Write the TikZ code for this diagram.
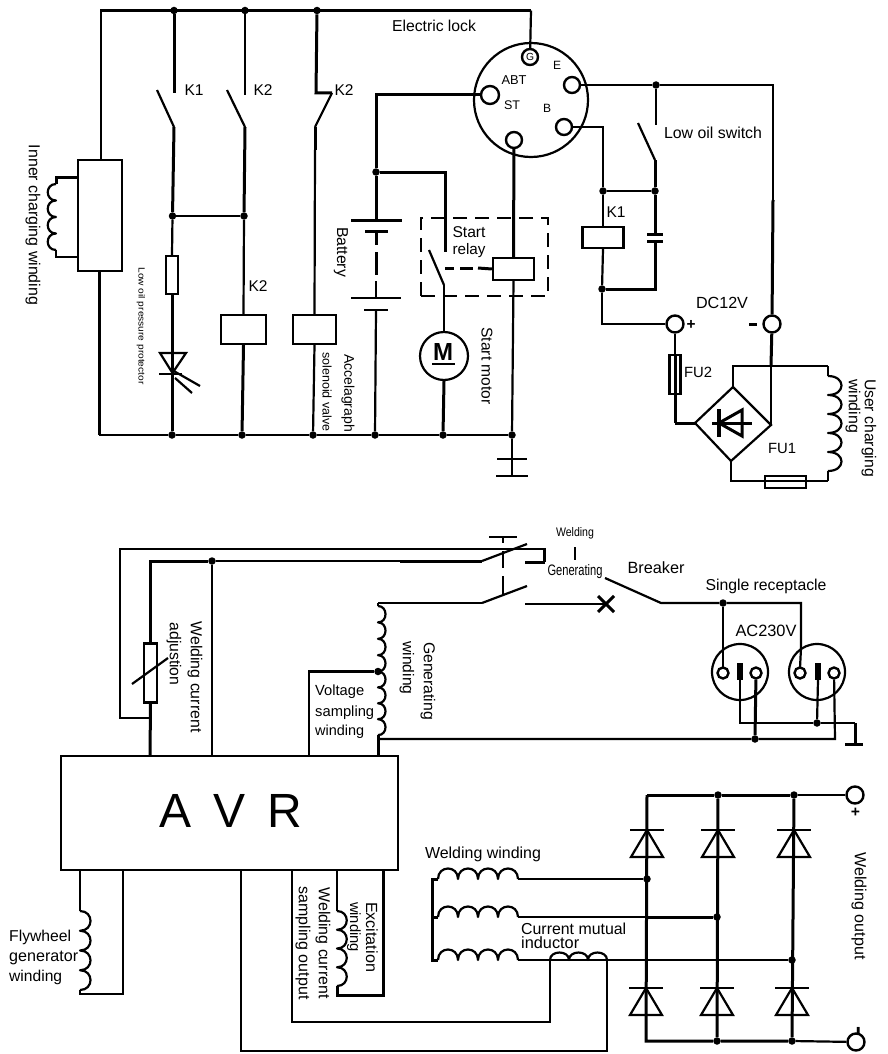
\documentclass[tikz,border=0pt]{standalone}
\usepackage{fontspec}
\usepackage{graphicx}
\setmainfont{Liberation Sans}
\newcommand\Tw[2]{\resizebox{#1pt}{!}{#2}}
\newcommand\Tb[3]{\resizebox{#1pt}{#2pt}{#3}}
\newcommand\diodeD[2]{%
  \draw[wire] (#1,#2) ++(-17,0) -- ++(34,0);
  \draw[wire] (#1,#2) -- ++(-16,27) -- ++(32,0) -- cycle;}
% start point, step x, step y, bulge x, bulge y, number of turns
\newcommand\coilP[6]{\draw[coilline] (#1) foreach \i in {1,...,#6} { .. controls +(#4,#5) and +(#4,#5) .. ++(#2,#3) };}
\tikzset{
  wire/.style={line width=2.2pt,line join=miter,draw=black},
  thin wire/.style={line width=1.7pt,draw=black},
  thick wire/.style={line width=3pt,draw=black},
  coilline/.style={line width=2.2pt,draw=black,line join=round},
  dot/.style={circle,fill=black,inner sep=0pt,minimum size=7.5pt},
  term/.style={circle,draw=black,line width=2.4pt,fill=white,inner sep=0pt,minimum size=#1},
  term/.default=16pt,
  box/.style={draw=black,line width=2.4pt,fill=white,inner sep=0pt},
  lab/.style={inner sep=0pt,text=black},
  rlab/.style={inner sep=0pt,text=black,rotate=-90},
}
\begin{document}
\begin{tikzpicture}[x=1pt,y=-1pt]
\useasboundingbox (0,0) rectangle (887,1054);
% ---- top rail and junctions
\coordinate (tl) at (101,10.5);
\coordinate (tr) at (531,10.5);
\node[dot] (t1) at (174,10.5) {};
\node[dot] (t2) at (245,10.5) {};
\node[dot] (t3) at (317,10.5) {};
\node[dot] (b1) at (172,435) {};
\node[dot] (b2) at (242,435) {};
\node[dot] (b3) at (313,435) {};
\node[dot] (b4) at (375,435) {};
\node[dot] (b5) at (443,435) {};
\node[dot] (b6) at (512,435) {};
\coordinate (bl) at (99,435);
% inner charging
\node[box,minimum width=44pt,minimum height=111pt] (chg) at (100,215.5) {};
\draw[wire] (chg.north -| tl) -- (tl) -- (tr);
\draw[thick wire] (bl) -- (chg.south -| bl);
\draw[wire] (bl) -- (b1) -- (b2) -- (b3) -- (b4) -- (b5) -- (b6);
\coordinate (ci1) at (56,177);
\coordinate (ci2) at (56,257);
\coordinate (ci3) at (56,250);
\draw[thick wire] (chg.west |- ci1) -- (ci1) -- (56,184);
\draw[wire] (chg.west |- ci2) -- (ci2) -- (56,250);
\coilP{ci3}{0}{-16.5}{-11}{0}{4}
\node[rlab] (lInner) at (33,225) {\Tw{160}{Inner charging winding}};
% K1 contact
\node[dot] (j1) at (172.5,216) {};
\node[dot] (j2) at (244,216) {};
\draw[thick wire] (t1) -- (174,93);
\draw[wire] (157,90) -- (174,127);
\draw[thick wire] (174,127) -- (j1);
\draw[wire] (j1) -- (j2);
\node[lab] (lK1a) at (194,90) {\Tw{19}{K1}};
% K2 contact
\draw[wire] (t2) -- (245,95);
\draw[wire] (227,90) -- (245,127);
\draw[thick wire] (245,127) -- (j2);
\node[lab] (lK2a) at (263,90) {\Tw{19}{K2}};
% K2 normally closed
\draw[thick wire] (t3) -- (316,93) -- (332,93);
\draw[wire] (332,93) -- (315,127);
\draw[thick wire] (315,127) -- (315,150);
\node[lab] (lK2b) at (344,90) {\Tw{19}{K2}};
% low oil pressure protector
\node[box,minimum width=12pt,minimum height=38pt] (fuseP) at (172,275) {};
\draw[wire] (j1) -- (fuseP.north);
\draw[thick wire] (fuseP.south) -- (b1);
\draw[wire] (160,353) -- (186,353) -- (172.5,373) -- cycle;
\draw[wire] (159,374) -- (182,374);
\draw[wire] (172,370) -- (200,386);
\draw[wire] (175,378) -- (192,393);
\node[rlab] (lLow) at (141,326) {\Tb{117}{6.5}{Low oil pressure protector}};
% K2 relay coils
\node[box,minimum width=45pt,minimum height=29pt] (coilK2) at (243.5,329.5) {};
\draw[wire] (j2) -- (coilK2.north);
\draw[thick wire] (coilK2.south) -- (b2);
\node[lab] (lK2c) at (258,286) {\Tw{19}{K2}};
\node[box,minimum width=43pt,minimum height=29pt] (coilAcc) at (314.5,329.5) {};
\draw[wire] (315,150) -- (coilAcc.north);
\draw[wire] (coilAcc.south) -- (b3);
\node[rlab] (lAcc1) at (348,393) {\Tw{78}{Accelagraph}};
\node[rlab] (lAcc2) at (327,392) {\Tw{79}{solenoid valve}};
% lock
\node[circle,draw=black,line width=2.2pt,inner sep=0pt,minimum size=114pt] (lock) at (531,100) {};
\node[term=16pt] (tG) at (530,57) {\Tw{8}{G}};
\node[term=16pt] (tE) at (572,85) {};
\node[term=18pt] (tA) at (490,95) {};
\node[term=16pt] (tB) at (564,127) {};
\node[term=16pt] (tS) at (514,140) {};
\draw[wire] (tr) -- (tG);
\node[lab] (lLock) at (434,26) {\Tw{84}{Electric lock}};
\node[lab] (lE) at (557,65) {\Tw{8}{E}};
\node[lab] (lABT) at (514,80) {\Tw{25}{ABT}};
\node[lab] (lST) at (512,105) {\Tw{16}{ST}};
\node[lab] (lB) at (547,108) {\Tw{8}{B}};
% battery
\node[dot] (jb) at (376,172) {};
\coordinate (bp1) at (376,220);
\draw[thick wire] (tA) -- (376,95) -- (jb);
\draw[thick wire] (jb) -- (bp1);
\draw[thick wire] (351,220) -- (402,220);
\draw[thick wire] (365,231) -- (388,231);
\draw[thick wire] (376,231) -- (376,245);
\draw[thick wire] (376,252) -- (376,275);
\draw[wire] (376,281) -- (376,298);
\draw[wire] (351,298) -- (401,298);
\draw[wire] (364,310) -- (388,310);
\draw[wire] (376,310) -- (b4);
\node[rlab] (lBat) at (341,252) {\Tw{50}{Battery}};
% start relay
\node[draw=black,line width=2.8pt,dash pattern=on 14pt off 8pt,inner sep=0pt,minimum width=127pt,minimum height=78pt] (rbox) at (484.5,257) {};
\node[box,minimum width=41pt,minimum height=22pt] (coilS) at (513.5,269) {};
\draw[thick wire] (jb) -- (445,172) -- (445,252);
\draw[wire] (429,250) -- (444,285);
\draw[thick wire] (445,268) -- (454,268);
\draw[thick wire] (460,268) -- (473,268);
\draw[thick wire] (478,268) -- (coilS.west);
\node[lab] (lSt1) at (469,232) {\Tw{33}{Start}};
\node[lab] (lSt2) at (469,251) {\Tw{33}{relay}};
\draw[thick wire] (tS) -- (coilS.north);
\draw[wire] (coilS.south) -- (b6);
% motor
\node[circle,draw=black,line width=2.2pt,inner sep=0pt,minimum size=48pt] (motor) at (444,356) {};
\node[lab] (lM) at (443,352) {\Tb{20}{17}{\bfseries M}};
\draw[thin wire] (432,364) -- (455,364);
\draw[wire] (444,285) -- (motor.north);
\draw[thick wire] (motor.south) -- (b5);
\node[rlab] (lSm) at (487,366) {\Tw{77}{Start motor}};
% ground
\coordinate (g1) at (512,476);
\draw[wire] (b6) -- (g1);
\draw[thin wire] (497,459) -- (527,459);
\draw[thin wire] (496,476) -- (528,476);
% E wire
\node[dot] (jE) at (656,85) {};
\node[term=17pt] (tM) at (772,324) {};
\draw[wire] (tE) -- (jE) -- (773,85) -- (773,200);
\draw[thick wire] (773,200) -- (tM);
\node[lab] (lOil) at (713,133) {\Tw{98}{Low oil switch}};
\draw[wire] (jE) -- (656,125);
\draw[wire] (638,123) -- (655,160);
\node[dot] (j3) at (655,191) {};
\node[dot] (j4) at (603,191) {};
\node[dot] (j5) at (602,289) {};
\draw[thick wire] (655,160) -- (j3);
\draw[wire] (j3) -- (j4);
\draw[wire] (tB) -- (603,127) -- (j4);
\node[box,minimum width=41pt,minimum height=21pt] (coilK1) at (603,237.5) {};
\draw[wire] (j4) -- (coilK1.north);
\draw[wire] (coilK1.south) -- (j5);
\node[lab] (lK1b) at (616,212) {\Tw{19}{K1}};
\coordinate (cap1) at (655,234);
\coordinate (cap2) at (655,241);
\draw[thick wire] (j3) -- (cap1);
\draw[thick wire] (647,234) -- (663,234);
\draw[thick wire] (647,241) -- (663,241);
\draw[thick wire] (cap2) -- (655,289) -- (j5);
% DC12V
\node[term=17pt] (tP) at (675,324) {};
\draw[wire] (j5) -- (602,324) -- (tP);
\node[lab] (lDC) at (722,303) {\Tw{52}{DC12V}};
\node[lab] (lPlus) at (691,325) {\Tw{9}{\bfseries +}};
\draw[thick wire] (749,324) -- (757,324);
% FU2
\node[box,minimum width=11pt,minimum height=39pt] (fu2) at (675,374.5) {};
\draw[wire] (tP) -- (675,355);
\draw[thick wire] (675,355) -- (675,423);
\node[lab] (lFU2) at (698,372) {\Tw{28}{FU2}};
% bridge
\coordinate (dT) at (733,387);
\coordinate (dR) at (771,425);
\coordinate (dB) at (731,461);
\coordinate (dL) at (695,423);
\draw[wire] (dT) -- (dR) -- (dB) -- (dL) -- cycle;
\draw[thick wire] (675,423) -- (dL);
\draw[thick wire] (tM) -- (771,366);
\draw[wire] (771,366) -- (dR);
\draw[wire] (dT) -- (733,366) -- (828,366);
\draw[thick wire] (712,423) -- (752,423);
\draw[line width=3.4pt,draw=black] (719,409) -- (719,437);
\draw[line width=3pt,draw=black] (719,423) -- (742,410) -- (742,436) -- cycle;
\draw[wire] (dB) -- (731,481) -- (828,481);
\node[box,minimum width=41pt,minimum height=12pt,fill=none] (fu1) at (785.5,482) {};
\node[lab] (lFU1) at (782,448) {\Tw{28}{FU1}};
\coordinate (cu1) at (828,376);
\draw[wire] (828,366) -- (cu1);
\coilP{cu1}{0}{19}{18}{0}{5}
\draw[wire] (828,471) -- (828,481);
\node[rlab] (lU1) at (869,428) {\Tw{98}{User charging}};
\node[rlab] (lU2) at (853,406) {\Tw{54}{winding}};
% ---- lower part: switches
\node[box,minimum width=13pt,minimum height=59pt] (pot) at (150.5,673) {};
\node[dot] (j6) at (212,561) {};
\draw[wire] (544.5,562) -- (544.5,549) -- (120,549) -- (120,718) -- (150,718);
\draw[thick wire] (544.5,562) -- (525,562);
\draw[thick wire] (150,643.5) -- (150,561) -- (j6);
\draw[wire] (j6) -- (400,561);
\draw[thick wire] (400,561) -- (482,561);
\draw[wire] (482,561) -- (527,544);
\node[box,minimum width=337pt,minimum height=114pt,line width=2.8pt,fill=none] (avr) at (229.5,813) {};
\node[lab] (lAVR) at (231,811) {\fontsize{48}{48}\selectfont A\hspace{22pt}V\hspace{22pt}R};
\draw[thick wire] (pot.south) -- (150,756);
\draw[wire] (j6) -- (212,756);
\draw[wire] (132,684) -- (168,658);
\node[rlab] (lWc) at (195,677) {\Tw{111}{Welding current}};
\node[rlab] (lAd) at (174,654) {\Tw{63}{adjustion}};
% gang
\draw[wire] (489,537) -- (517,537);
\draw[wire] (503,537) -- (503,543);
\draw[wire] (503,551) -- (503,568);
\draw[wire] (503,576) -- (503,594);
% generating
\coordinate (gt) at (378,603);
\coordinate (gs) at (378,606);
\node[dot] (gm) at (378,671.5) {};
\draw[wire] (gt) -- (482,603);
\draw[wire] (482,603) -- (527,586);
\draw[wire] (gt) -- (gs);
\coilP{gs}{0}{16.4}{10}{0}{4}
\coilP{gm.center}{0}{15.9}{10}{0}{4}
\draw[thick wire] (378,735) -- (378,756);
\draw[wire] (gm) -- (309,671.5) -- (309,756);
\node[rlab] (lGe1) at (428,681) {\Tw{78}{Generating}};
\node[rlab] (lGe2) at (407,668) {\Tw{53}{winding}};
\node[lab,anchor=west] (lV1) at (315,692) {\Tw{49}{Voltage}};
\node[lab,anchor=west] (lV2) at (315,713) {\Tw{59}{sampling}};
\node[lab,anchor=west] (lV3) at (315,732) {\Tw{49}{winding}};
% breaker
\draw[wire] (525,604) -- (606,604);
\draw[thick wire] (598,596) -- (614,612);
\draw[thick wire] (598,612) -- (614,596);
\node[lab] (lWe) at (575,533) {\Tb{38}{9}{Welding}};
\draw[wire] (575,547) -- (575,560);
\node[lab] (lGn) at (575,572) {\Tb{55}{11}{Generating}};
\node[lab] (lBr) at (656,568) {\Tw{57}{Breaker}};
\node[lab] (lSr) at (766,586) {\Tw{121}{Single receptacle}};
\node[dot] (j7) at (723,603) {};
\draw[wire] (605,578) -- (661,603) -- (j7) -- (801,603) -- (801,648);
\node[lab] (lAC) at (766,631) {\Tw{61}{AC230V}};
% sockets
\node[circle,draw=black,line width=2.2pt,inner sep=0pt,minimum size=56pt] (s1) at (740,672) {};
\node[circle,draw=black,line width=2.2pt,inner sep=0pt,minimum size=56pt] (s2) at (817,672) {};
\draw[wire] (j7) -- (723,668);
\draw[wire] (801,648) -- (800,668);
\node[term=11pt] (p1) at (723,673) {};
\node[term=11pt] (p2) at (756,673) {};
\node[term=11pt] (p3) at (800,673) {};
\node[term=11pt] (p4) at (834,673) {};
\draw[line width=6pt,draw=black] (740,663) -- (740,680);
\draw[line width=6pt,draw=black] (818,663) -- (818,680);
\node[dot] (j8) at (817,723) {};
\node[dot] (j9) at (755,739) {};
\draw[wire] (740,680) -- (740,723) -- (j8) -- (855,723);
\draw[thick wire] (855,723) -- (855,743);
\draw[thick wire] (845,744) -- (863,744);
\draw[wire] (818,680) -- (j8);
\draw[thick wire] (p2) -- (j9);
\draw[wire] (378,739) -- (j9) -- (835,739) -- (p4);
% flywheel
\coordinate (cf) at (80,911);
\draw[wire] (80,870) -- (cf);
\coilP{cf}{0}{19.75}{14}{0}{4}
\draw[wire] (80,990) -- (80,994) -- (123,994) -- (123,870);
\node[lab,anchor=west] (lF1) at (9,937) {\Tw{62}{Flywheel}};
\node[lab,anchor=west] (lF2) at (9,958) {\Tw{69}{generator}};
\node[lab,anchor=west] (lF3) at (9,977) {\Tw{53}{winding}};
% excitation
\coordinate (ce) at (337,911);
\draw[wire] (337,870) -- (ce);
\coilP{ce}{0}{18.75}{13}{0}{4}
\draw[thick wire] (337,986) -- (337,995) -- (383,995) -- (383,870);
\node[rlab] (lEx1) at (372,937) {\Tw{70}{Excitation}};
\node[rlab] (lEx2) at (354,927) {\Tw{50}{winding}};
\node[rlab] (lWs1) at (323,943) {\Tw{111}{Welding current}};
\node[rlab] (lWs2) at (303,943) {\Tw{113}{sampling output}};
% to inductor
\coordinate (ci) at (550,960);
\draw[wire] (292,870) -- (292,1022) -- (550,1022) -- (ci);
\draw[wire] (241,870) -- (241,1051) -- (607,1051) -- (607,960);
% welding winding
\node[lab] (lWw) at (483,854) {\Tw{116}{Welding winding}};
\coordinate (w1) at (438,879);
\coordinate (w2) at (438,917);
\coordinate (w3) at (438,960);
\draw[thick wire] (w1) -- (432,879) -- (432,960) -- (w3);
\draw[thick wire] (432,917) -- (w2);
\coilP{w1}{20}{0}{0}{-14}{4}
\coilP{w2}{20}{0}{0}{-14}{4}
\coilP{w3}{20}{0}{0}{-14}{4}
\node[lab,anchor=west] (lCm1) at (521,929) {\Tw{105}{Current mutual}};
\node[lab,anchor=west] (lCm2) at (521,943) {\Tw{58}{inductor}};
\coilP{ci}{19}{0}{0}{-10}{3}
% bridge rectifier
\node[dot] (r1) at (647,879) {};
\node[dot] (r2) at (717,917) {};
\node[dot] (r3) at (792,960) {};
\node[dot] (k1) at (718,795) {};
\node[dot] (k2) at (794,795) {};
\node[dot] (a1) at (717,1041) {};
\node[dot] (a2) at (792,1041) {};
\node[term=17pt] (wP) at (855,795) {};
\node[term=17pt] (wN) at (856,1042) {};
\draw[wire] (518,879) -- (r1);
\draw[wire] (518,917) -- (647,917);
\draw[thick wire] (647,917) -- (r2);
\draw[wire] (518,960) -- (r3);
\draw[thick wire] (647,795) -- (k1) -- (k2);
\draw[wire] (k2) -- (wP);
\draw[thick wire] (647,795) -- (646,1041) -- (a1) -- (a2);
\draw[wire] (a2) -- (wN);
\draw[thick wire] (k1) -- (a1);
\draw[thick wire] (k2) -- (a2);
\diodeD{647}{830}
\diodeD{718}{830}
\diodeD{794}{830}
\diodeD{646}{988}
\diodeD{717}{988}
\diodeD{792}{988}
\node[rlab] (lPl2) at (855,812) {\Tw{9}{\bfseries +}};
\node[rlab] (lMi2) at (856,1030) {\Tw{8}{\bfseries -}};
\node[rlab] (lWo) at (859,906) {\Tw{107}{Welding output}};
\end{tikzpicture}
\end{document}
